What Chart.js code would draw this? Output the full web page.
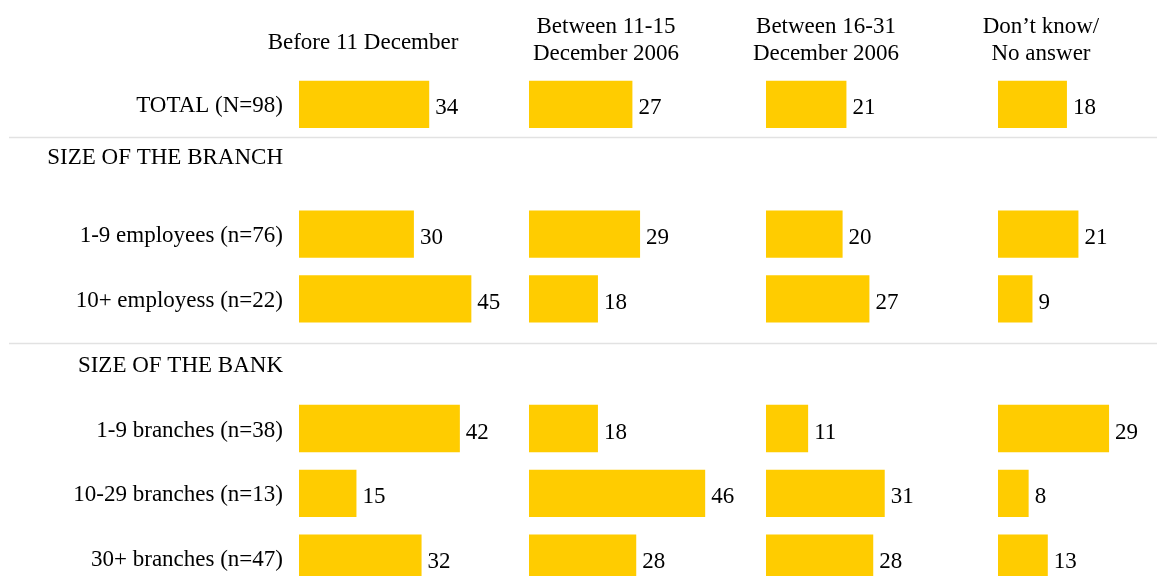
<!DOCTYPE html>
<html>
<head>
<meta charset="utf-8">
<title>Planned timing by branch and bank size</title>
<script src="https://cdn.jsdelivr.net/npm/chart.js@4/dist/chart.umd.min.js"></script>
<style>
  html, body { margin: 0; padding: 0; background: #fff; }
  #wrap { width: 1157px; height: 576px; overflow: hidden; }
</style>
</head>
<body>
<div id="wrap"><canvas id="timing" width="1157" height="614"></canvas></div>
<script>
const rowLabels = [
  'TOTAL (N=98)',
  ['SIZE OF THE BRANCH', ''],
  '1-9 employees (n=76)',
  '10+ employess (n=22)',
  'SIZE OF THE BANK',
  '1-9 branches (n=38)',
  '10-29 branches (n=13)',
  '30+ branches (n=47)',
];
const columnTitles = [
  ['Before 11 December'],
  ['Between 11-15', 'December 2006'],
  ['Between 16-31', 'December 2006'],
  ['Don\u2019t know/', 'No answer'],
];
// group header rows carry no values
const before11 = [34, null, 30, 45, null, 42, 15, 32];
const between11to15 = [27, null, 29, 18, null, 18, 46, 28];
const between16to31 = [21, null, 20, 27, null, 11, 31, 28];
const dontKnow = [18, null, 21, 9, null, 29, 8, 13];

const FONT = "'Liberation Serif', 'DejaVu Serif', serif";
const FONT_SIZE = 23;
const TEXT = '#000';
const BAR = '#FFCC00';

// layout: where each panel's zero line sits, px per percent point
const AXIS_LEFT = 293;
const AREA_W = 1157 - AXIS_LEFT;
const PX_PER_UNIT = 3.83;
const panelStarts = [299, 529, 766, 998];
const titleCenters = [363, 606, 826, 1041];

function panelScale(start) {
  const min = -(start - AXIS_LEFT) / PX_PER_UNIT;
  return { display: false, min, max: min + AREA_W / PX_PER_UNIT };
}

const series = [before11, between11to15, between16to31, dontKnow];
const datasets = series.map((values, i) => ({
  label: columnTitles[i].join(' '),
  data: values,
  xAxisID: 'x' + i,
  backgroundColor: BAR,
  borderWidth: 0,
  grouped: false,
  barPercentage: 0.73,
  categoryPercentage: 1,
}));

const scales = {
  y: {
    type: 'category',
    grid: { display: false, drawTicks: false },
    border: { display: false },
    ticks: {
      color: TEXT,
      padding: 10,
      autoSkip: false,
      labelOffset: 2,
      font: { family: FONT, size: FONT_SIZE, lineHeight: 1.17 },
    },
    afterFit: (s) => { s.width = AXIS_LEFT; },
  },
};
panelStarts.forEach((start, i) => { scales['x' + i] = panelScale(start); });

const valueLabels = {
  id: 'valueLabels',
  afterDatasetsDraw(chart) {
    const ctx = chart.ctx;
    ctx.save();
    ctx.font = FONT_SIZE + 'px ' + FONT;
    ctx.fillStyle = TEXT;
    ctx.textAlign = 'left';
    ctx.textBaseline = 'middle';
    chart.data.datasets.forEach((ds, di) => {
      chart.getDatasetMeta(di).data.forEach((bar, i) => {
        const v = ds.data[i];
        if (v == null) return;
        ctx.fillText(String(v), bar.x + 6, bar.y + 4);
      });
    });
    ctx.restore();
  },
};

const titlesAndRules = {
  id: 'titlesAndRules',
  beforeDatasetsDraw(chart) {
    const ctx = chart.ctx;
    const y = chart.scales.y;
    ctx.save();
    // thin rules after the total row and between the two groups
    ctx.strokeStyle = '#e2e2e2';
    ctx.lineWidth = 1.5;
    [0.51, 3.68].forEach((pos) => {
      const py = Math.round(y.getPixelForValue(pos)) + 0.5;
      ctx.beginPath();
      ctx.moveTo(9, py);
      ctx.lineTo(chart.width, py);
      ctx.stroke();
    });
    // column titles
    ctx.font = FONT_SIZE + 'px ' + FONT;
    ctx.fillStyle = TEXT;
    ctx.textAlign = 'center';
    ctx.textBaseline = 'middle';
    columnTitles.forEach((lines, i) => {
      const top = lines.length === 1 ? 43 : 27;
      lines.forEach((line, j) => ctx.fillText(line, titleCenters[i], top + j * 27));
    });
    ctx.restore();
  },
};

new Chart(document.getElementById('timing'), {
  type: 'bar',
  data: { labels: rowLabels, datasets },
  options: {
    indexAxis: 'y',
    responsive: false,
    animation: false,
    devicePixelRatio: 1,
    layout: { padding: { top: 72, bottom: 12, left: 0, right: 0 } },
    scales,
    plugins: {
      legend: { display: false },
      tooltip: { enabled: false },
    },
  },
  plugins: [titlesAndRules, valueLabels],
});
</script>
</body>
</html>
